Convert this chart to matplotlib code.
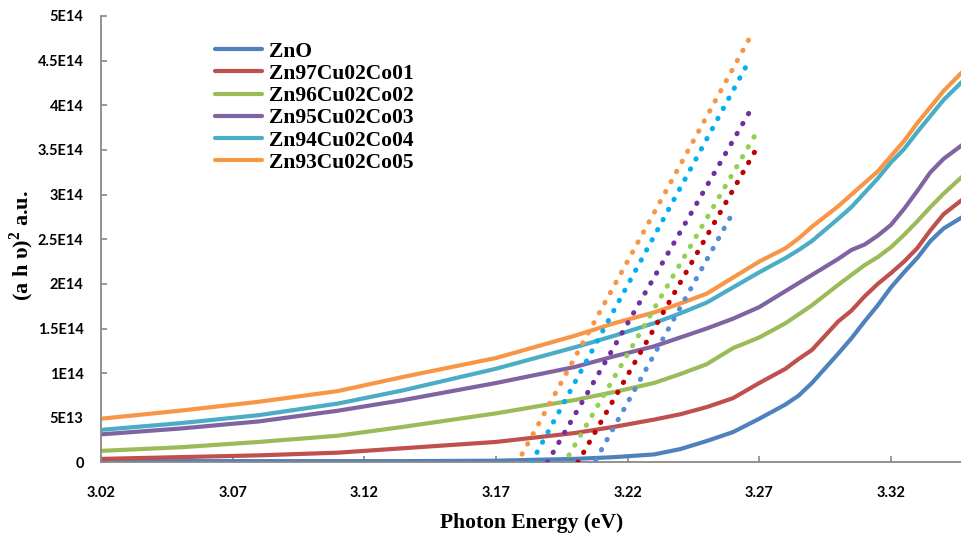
import numpy as np
import matplotlib
matplotlib.use("Agg")
import matplotlib.pyplot as plt

plt.rcParams["mathtext.fontset"] = "custom"
plt.rcParams["mathtext.bf"] = "Liberation Serif:bold"
plt.rcParams["mathtext.rm"] = "Liberation Serif:bold"

# photon energy grid (eV) for the measured curves
energy = [3.02, 3.05, 3.08, 3.11, 3.135, 3.17, 3.20, 3.215, 3.23, 3.24,
          3.25, 3.26, 3.27, 3.28, 3.285, 3.29, 3.30, 3.305, 3.31, 3.315,
          3.32, 3.325, 3.33, 3.335, 3.34, 3.35]

# (a h v)^2 in units of 1E13
zno = [0.15, 0.15, 0.15, 0.15, 0.15, 0.2, 0.4, 0.6, 0.9, 1.5,
       2.4, 3.4, 4.9, 6.5, 7.5, 8.9, 12.2, 13.9, 15.8, 17.6,
       19.6, 21.3, 22.9, 24.8, 26.2, 28.0]
zn97 = [0.4, 0.6, 0.8, 1.1, 1.6, 2.3, 3.3, 4.0, 4.8, 5.4,
        6.2, 7.2, 8.9, 10.5, 11.6, 12.6, 15.8, 17.0, 18.6, 20.0,
        21.2, 22.5, 24.0, 26.0, 27.8, 30.1]
zn96 = [1.3, 1.7, 2.3, 3.0, 4.0, 5.5, 7.0, 7.9, 8.9, 9.9,
        11.0, 12.8, 14.0, 15.6, 16.6, 17.6, 19.9, 21.0, 22.1, 23.0,
        24.1, 25.5, 27.0, 28.6, 30.1, 32.8]
zn95 = [3.15, 3.8, 4.6, 5.8, 7.0, 8.9, 10.7, 11.9, 13.0, 14.0,
        15.0, 16.1, 17.4, 19.2, 20.1, 21.0, 22.8, 23.8, 24.4, 25.4,
        26.6, 28.4, 30.4, 32.5, 34.0, 36.2]
zn94 = [3.65, 4.4, 5.3, 6.6, 8.1, 10.5, 12.9, 14.2, 15.6, 16.7,
        17.9, 19.6, 21.3, 22.9, 23.8, 24.8, 27.3, 28.6, 30.2, 31.8,
        33.6, 35.1, 37.0, 38.8, 40.6, 43.5]
zn93 = [4.9, 5.8, 6.8, 8.0, 9.6, 11.7, 14.2, 15.6, 16.8, 17.8,
        18.9, 20.7, 22.5, 24.0, 25.1, 26.4, 28.7, 30.0, 31.3, 32.6,
        34.3, 36.0, 38.0, 39.8, 41.6, 44.6]

labels = ["ZnO", "Zn97Cu02Co01", "Zn96Cu02Co02",
          "Zn95Cu02Co03", "Zn94Cu02Co04", "Zn93Cu02Co05"]
series = [zno, zn97, zn96, zn95, zn94, zn93]

# tangent (Tauc) lines: start/end energy and value (1E13)
fit_x = [[3.2079, 3.2589], [3.2011, 3.2683], [3.1955, 3.2683],
         [3.1895, 3.2660], [3.1835, 3.2649], [3.1778, 3.2661]]
fit_y = [[0.28, 27.4], [0.0, 34.8], [-0.3, 36.6],
         [0.0, 39.1], [0.0, 44.3], [-0.2, 47.4]]

line_colors = ["#4F81BD", "#C0504D", "#9BBB59", "#8064A2", "#4BACC6", "#F79646"]
dot_colors = ["#558ED5", "#C00000", "#92D050", "#7030A0", "#00B0F0", "#F79646"]

yticks = [0, 5e13, 1e14, 1.5e14, 2e14, 2.5e14, 3e14, 3.5e14, 4e14, 4.5e14, 5e14]
ytick_labels = ["0", "5E13", "1E14", "1.5E14", "2E14", "2.5E14",
                "3E14", "3.5E14", "4E14", "4.5E14", "5E14"]
xticks = [3.02, 3.07, 3.12, 3.17, 3.22, 3.27, 3.32]


fig = plt.figure(figsize=(9.62, 5.33), dpi=100)
ax = fig.add_axes([0.105, 0.1323, 0.895, 0.8377])

e = np.array(energy)
for vals, lab, col in zip(series, labels, line_colors):
    ax.plot(e, np.array(vals) * 1e13, color=col, lw=3, label=lab,
            solid_capstyle="round", solid_joinstyle="round", zorder=2)

for fx, fy, col in zip(fit_x, fit_y, dot_colors):
    ax.plot(fx, np.array(fy) * 1e13, color=col, lw=3.6,
            linestyle=(0, (0.1, 2.2)), dash_capstyle="round", zorder=3)

ax.set_xlim(3.02, 3.347)
ax.set_ylim(0, 5e14)
ax.set_xticks(xticks)
ax.set_xticklabels([f"{t:.2f}" for t in xticks])
ax.set_yticks(yticks)
ax.set_yticklabels(ytick_labels)

for s in ["top", "right"]:
    ax.spines[s].set_visible(False)
for s in ["left", "bottom"]:
    ax.spines[s].set_color("#898989")
    ax.spines[s].set_linewidth(1.3)

ax.tick_params(axis="both", direction="in", length=4, width=1.2, color="#898989")
ax.tick_params(axis="y", pad=12.5)
ax.tick_params(axis="x", pad=17)
for t in ax.get_xticklabels() + ax.get_yticklabels():
    t.set_fontfamily("Lato")
    t.set_fontweight("bold")
    t.set_fontsize(10.5)
    t.set_color("black")

ax.set_xlabel("Photon Energy (eV)", fontfamily="Liberation Serif",
              fontweight="bold", fontsize=15.5, labelpad=9)
fig.text(0.023, 0.54, "(a h \u03c5)$^{\\mathbf{2}}$ a.u.", rotation=90,
         fontfamily="Liberation Serif", fontweight="bold", fontsize=16,
         ha="center", va="center")

leg = ax.legend(loc="upper left", bbox_to_anchor=(0.2235, 0.922),
                bbox_transform=fig.transFigure, frameon=False,
                borderpad=0, borderaxespad=0, handlelength=2.2,
                handletextpad=0.3, labelspacing=0.1,
                prop={"family": "Liberation Serif", "weight": "bold", "size": 15.5})

fig.savefig("out.png", dpi=100)
